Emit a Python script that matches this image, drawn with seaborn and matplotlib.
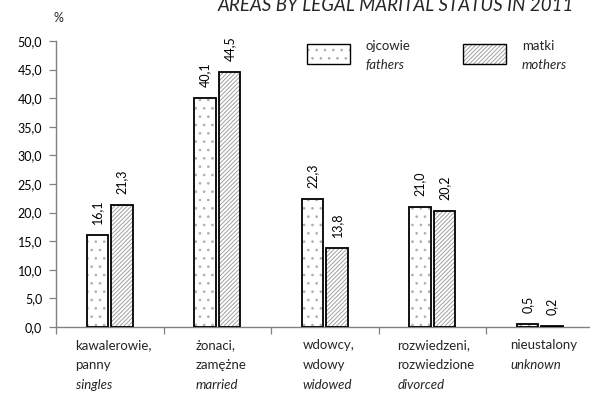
import matplotlib
matplotlib.use("Agg")
import matplotlib.pyplot as plt
import seaborn as sns
import pandas as pd
from matplotlib.patches import Rectangle
from matplotlib.ticker import FuncFormatter, MultipleLocator
from matplotlib.transforms import blended_transform_factory

# Data
categories_pl = [["kawalerowie,", "panny"], ["żonaci,", "zamężne"], ["wdowcy,", "wdowy"],
                 ["rozwiedzeni,", "rozwiedzione"], ["nieustalony"]]
categories_en = ["singles", "married", "widowed", "divorced", "unknown"]
fathers = [16.1, 40.1, 22.3, 21.0, 0.5]
mothers = [21.3, 44.5, 13.8, 20.2, 0.2]
series_pl = ["ojcowie", "matki"]
series_en = ["fathers", "mothers"]

sns.set_theme(style="white")
plt.rcParams["font.family"] = ["Lato", "DejaVu Sans"]
plt.rcParams["hatch.linewidth"] = 0.7

df = pd.DataFrame({
    "cat": categories_en * 2,
    "val": fathers + mothers,
    "series": [series_en[0]] * len(fathers) + [series_en[1]] * len(mothers),
})

W, H = 590, 393
fig = plt.figure(figsize=(W / 100, H / 100), dpi=100)
ax = fig.add_axes([56 / W, 1 - 327 / H, 537.5 / W, (327 - 41) / H])

sns.barplot(data=df, x="cat", y="val", hue="series", order=categories_en,
            hue_order=series_en, palette=["white", "white"], width=0.456,
            gap=0.12, legend=False, ax=ax, errorbar=None)

hatches = ["..", "////////"]
hatch_colors = ["#b0b0b0", "#a0a0a0"]
n = len(categories_en)
values = fathers + mothers
for i, bar in enumerate(ax.patches[:2 * n]):
    s = i // n
    bar.set_hatch(hatches[s])
    bar.set_edgecolor(hatch_colors[s])
    bar.set_linewidth(0)
    # black outline drawn over the hatched fill
    ax.add_patch(Rectangle(bar.get_xy(), bar.get_width(), bar.get_height(),
                           fill=False, edgecolor="black", linewidth=1.3, zorder=3))
    ax.annotate(f"{values[i]:.1f}".replace(".", ","),
                (bar.get_x() + bar.get_width() / 2, bar.get_height()),
                xytext=(0, 8), textcoords="offset points", rotation=90,
                ha="center", va="bottom", fontsize=9, color="black")

ax.set_ylim(0, 50)
ax.set_xlim(-0.5, n - 0.5)
ax.yaxis.set_major_locator(MultipleLocator(5))
ax.yaxis.set_major_formatter(FuncFormatter(lambda v, p: f"{v:.1f}".replace(".", ",")))
ax.set_xticks([i - 0.5 for i in range(n + 1)])
ax.set_xticklabels([])
ax.tick_params(axis="both", which="major", direction="out", length=5, width=0.9,
               color="#808080", labelsize=9, labelcolor="black", pad=5)
ax.tick_params(left=True, bottom=True)
ax.set_xlabel("")
ax.set_ylabel("")
for side in ["top", "right"]:
    ax.spines[side].set_visible(False)
for side in ["left", "bottom"]:
    ax.spines[side].set_color("#808080")
    ax.spines[side].set_linewidth(1.0)

# Category labels: Polish lines then an italic English line, as a left-aligned
# block centred under each category
renderer = fig.canvas.get_renderer()
tr = blended_transform_factory(ax.transData, fig.transFigure)
line_y = [345, 365, 385]
for i, (pl, en) in enumerate(zip(categories_pl, categories_en)):
    lines = [(t, "normal") for t in pl] + [(en, "italic")]
    texts = []
    for k, (t, st) in enumerate(lines):
        texts.append(ax.text(i, 1 - line_y[k] / H, t, transform=tr, ha="left",
                             va="center", fontsize=9.5, style=st))
    widths = [t.get_window_extent(renderer).width for t in texts]
    block = max(widths)
    x_center_px = ax.transData.transform((i, 0))[0]
    left_px = x_center_px - block / 2 + 4
    x_left = ax.transData.inverted().transform((left_px, 0))[0]
    for t in texts:
        t.set_x(x_left)

fig.text(58 / W, 1 - 18 / H, "%", ha="center", va="center", fontsize=9)

# Legend
for j in range(2):
    bx = [307, 463][j]
    fig.patches.append(Rectangle((bx / W, 1 - 64 / H), 43 / W, 20 / H,
                                 transform=fig.transFigure, facecolor="white",
                                 hatch=hatches[j], edgecolor=hatch_colors[j], linewidth=0))
    fig.patches.append(Rectangle((bx / W, 1 - 64 / H), 43 / W, 20 / H,
                                 transform=fig.transFigure, fill=False,
                                 edgecolor="black", linewidth=1.0))
    tx = [365, 522][j]
    fig.text(tx / W, 1 - 46 / H, series_pl[j], ha="left", va="center", fontsize=9.5)
    fig.text(tx / W, 1 - 65 / H, series_en[j], ha="left", va="center", fontsize=9.5,
             style="italic")

fig.text(574 / W, 1 - 11 / H, "AREAS BY LEGAL MARITAL STATUS IN 2011",
         ha="right", va="baseline", fontsize=13.5, style="italic")

fig.savefig("out.png", dpi=100)
